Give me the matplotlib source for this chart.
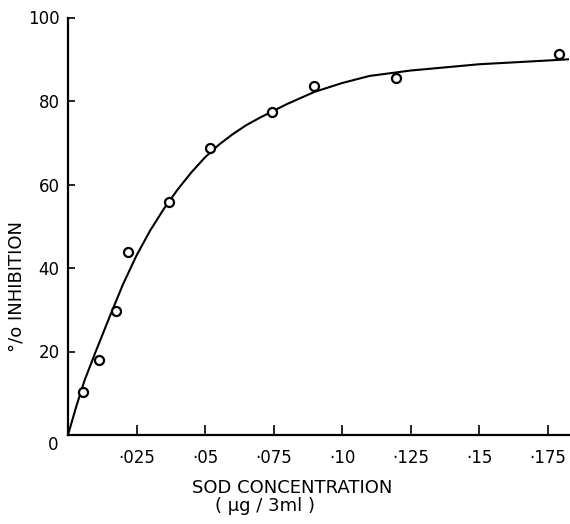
import numpy as np
import matplotlib.pyplot as plt

# measured SOD concentration (ug / 3ml) and % inhibition
conc = [0.0055, 0.0113, 0.0175, 0.0219, 0.0369, 0.0518, 0.0745, 0.0898, 0.1197, 0.179]
inhib = [10.3, 18.0, 29.7, 43.8, 55.8, 68.7, 77.4, 83.6, 85.5, 91.3]

# fitted curve
curve_x = [0, 0.003, 0.006, 0.010, 0.015, 0.020, 0.025, 0.030, 0.035, 0.040, 0.045,
           0.050, 0.055, 0.060, 0.065, 0.070, 0.080, 0.090, 0.100, 0.110, 0.125,
           0.150, 0.175, 0.183]
curve_y = [0, 6.8, 13.0, 19.8, 28.0, 36.0, 43.0, 49.0, 54.2, 58.8, 62.9,
           66.5, 69.5, 72.0, 74.2, 76.0, 79.3, 82.2, 84.3, 86.0, 87.3,
           88.8, 89.7, 90.0]

xticks = [0.025, 0.05, 0.075, 0.10, 0.125, 0.15, 0.175]
xtick_labels = ['·025', '·05', '·075', '·10', '·125', '·15', '·175']
yticks = [0, 20, 40, 60, 80, 100]

plt.rcParams['font.family'] = ['DejaVu Sans']

fig = plt.figure(figsize=(5.7, 5.24), dpi=100)
ax = fig.add_axes([68 / 570, 89 / 524, 501 / 570, 417.5 / 524])

ax.plot(curve_x, curve_y, color='black', lw=1.5)
ax.plot(conc, inhib, 'o', mfc='white', mec='black', mew=1.6, ms=6.5, zorder=3)

ax.set_xlim(0, 0.1828)
ax.set_ylim(0, 100)
for s in ['top', 'right']:
    ax.spines[s].set_visible(False)
for s in ['left', 'bottom']:
    ax.spines[s].set_linewidth(1.6)

ax.set_xticks(xticks)
ax.set_xticklabels(xtick_labels)
ax.set_yticks(yticks[1:])
ax.tick_params(direction='in', length=7, width=1.2, labelsize=12, pad=10)
ax.tick_params(axis='y', length=5, pad=6)

fig.text(53 / 570, 1 - 445 / 524, '0', fontsize=12, ha='center', va='center')
fig.text(292 / 570, 1 - 488 / 524, 'SOD CONCENTRATION', fontsize=13, ha='center', va='center')
fig.text(265 / 570, 1 - 506 / 524, '( µg / 3ml )', fontsize=13, ha='center', va='center')
fig.text(17 / 570, 1 - 286 / 524, '°/o INHIBITION', fontsize=13, rotation=90,
         ha='center', va='center')

fig.savefig('out.png', dpi=100)
